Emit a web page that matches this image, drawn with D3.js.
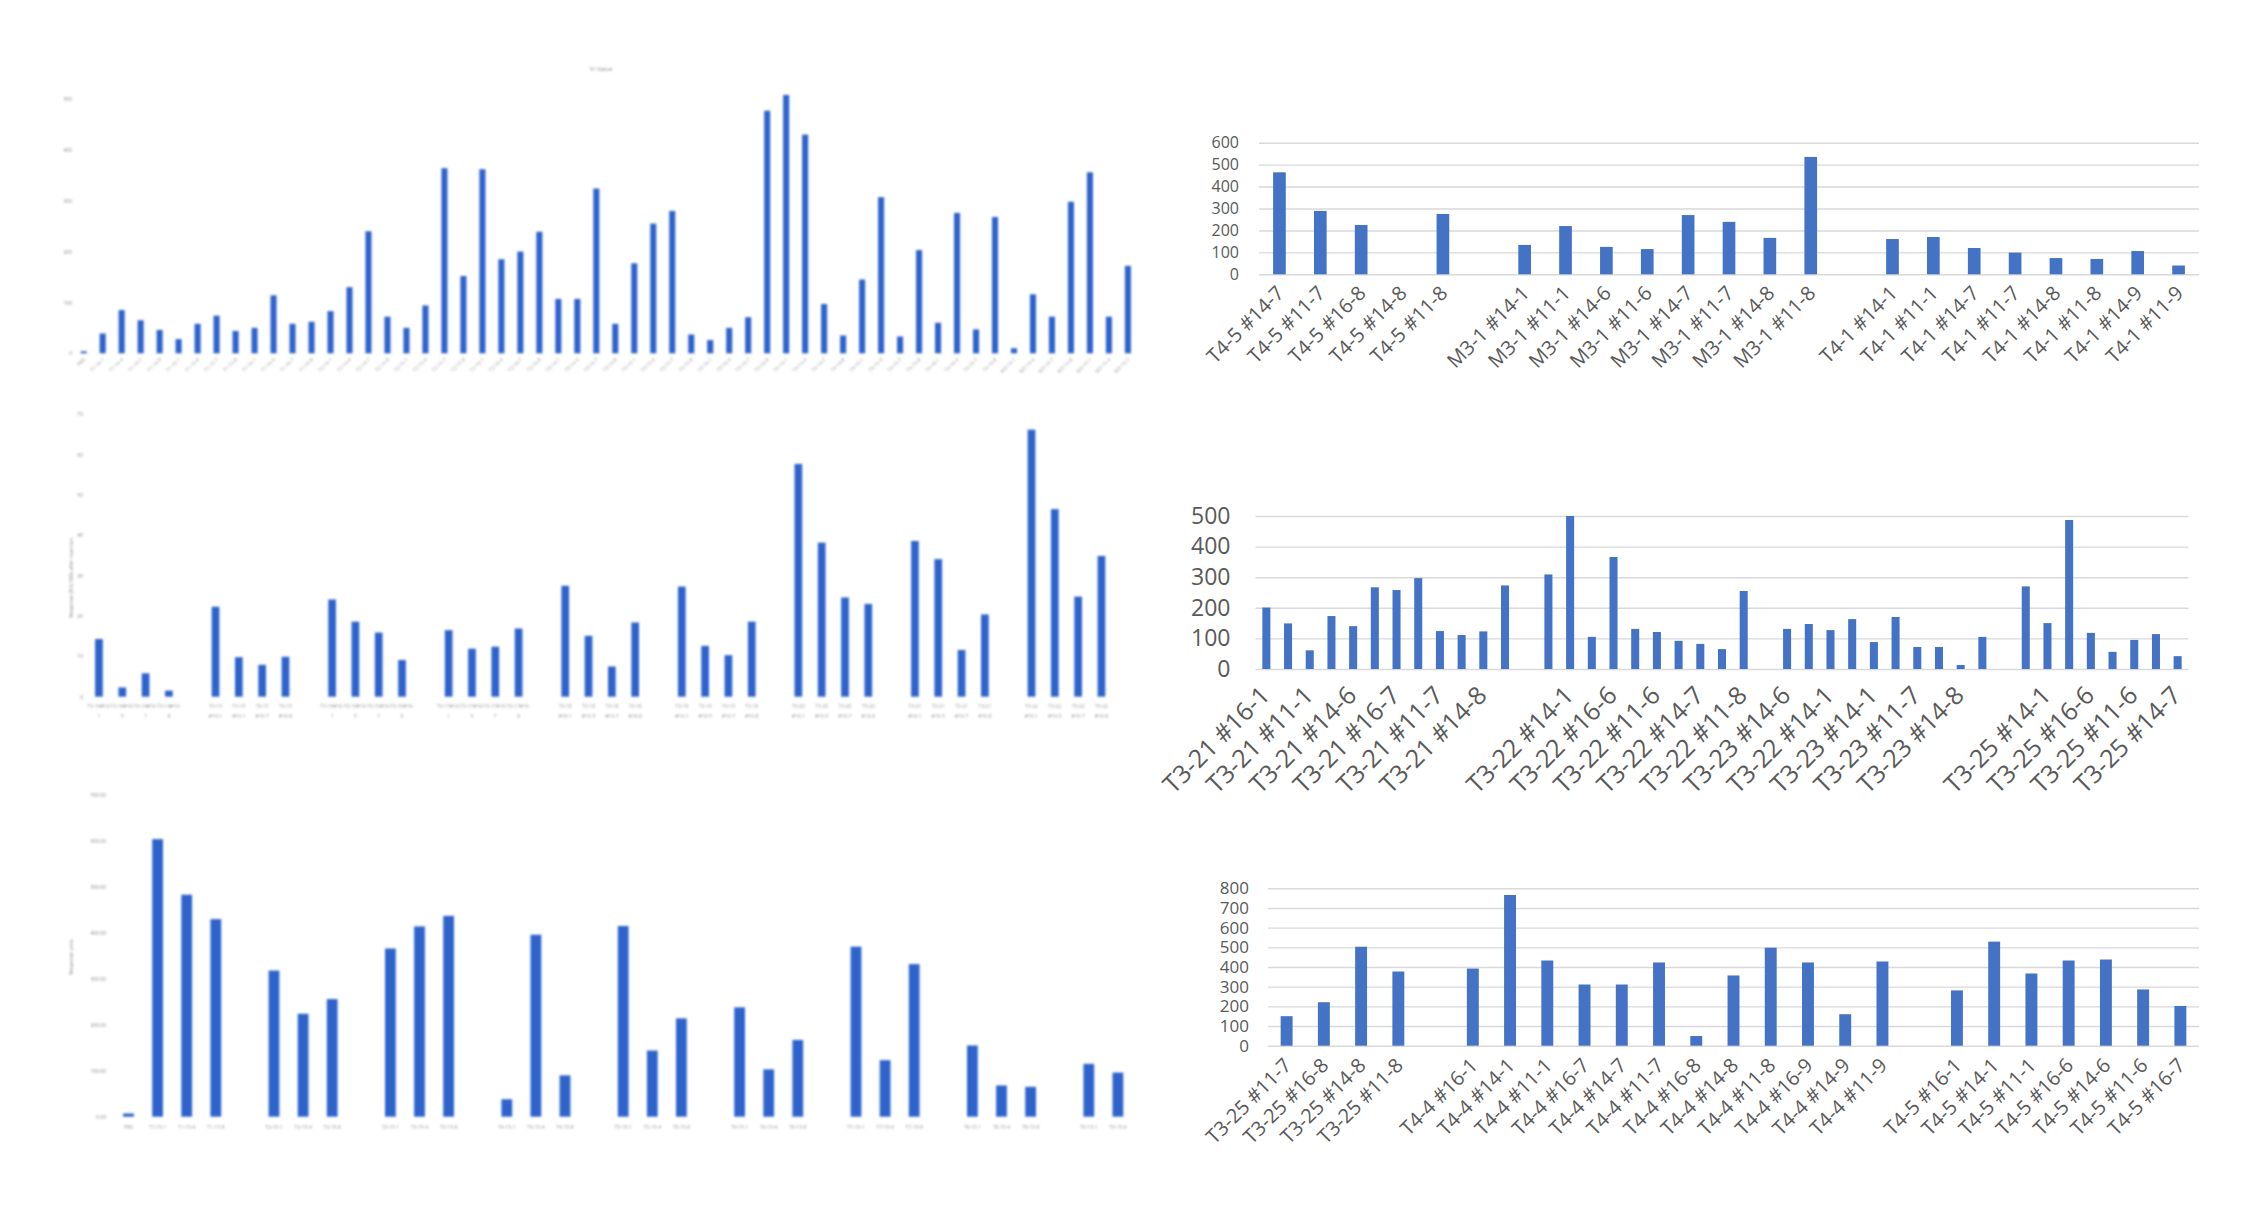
<!DOCTYPE html>
<html><head><meta charset="utf-8">
<script src="https://cdn.jsdelivr.net/npm/d3@7"></script>
<style>body{margin:0;background:#fff}svg{display:block;background:#fff}</style>
</head><body>
<svg id="c" width="2244" height="1205"></svg>
<script>
// ---------------- DATA ----------------
// Left top chart
const ltTitle = "Yr Value";
const ltLabels = ["PBS","T1-14-1","T1-14-4","T1-14-7","T1-14-8","T1-15-1","T1-15-4","T1-15-7","T1-15-8","T1-16-1","T1-16-4","T1-16-7","T1-16-8",
  "T2-14-1","T2-14-4","T2-14-7","T2-14-8","T2-15-1","T2-15-4","T2-15-7","T2-15-8","T2-16-1","T2-16-4","T2-16-7","T2-16-8",
  "T3-14-1","T3-14-4","T3-14-7","T3-14-8","T3-15-1","T3-15-4","T3-15-7","T3-15-8","T3-16-1","T3-16-4","T3-16-7","T3-16-8",
  "T4-14-1","T4-14-4","T4-14-7","T4-14-8","T4-15-1","T4-15-4","T4-15-7","T4-15-8","T4-16-1","T4-16-4","T4-16-7","T4-16-8",
  "M3-14-1","M3-14-4","M3-14-7","M3-14-8","M3-15-1","M3-15-4","M3-15-7"];
const ltValues = [4,39,85,65,46,28,58,74,44,50,114,58,62,83,130,240,72,50,94,364,152,362,185,200,239,107,107,324,58,177,
  255,280,37,26,50,71,477,508,430,97,35,145,307,33,203,60,276,47,268,10,116,72,298,356,72,172];
const ltTicks = [0,100,200,300,400,500];

// Left middle chart
const lmYTitle = "Response (RU) 180s after injection";
const lmLabels = [["T3-14#16-","1"],["T3-14#16-","5"],["T3-14#16-","7"],["T3-14#16-","8"],null,
  ["T3-15","#16-1"],["T3-15","#16-1"],["T3-15","#16-7"],["T3-15","#16-8"],null,
  ["T3-16#16-","1"],["T3-16#16-","5"],["T3-16#16-","7"],["T3-16#16-","8"],null,
  ["T3-17#16-","1"],["T3-17#16-","5"],["T3-17#16-","7"],["T3-17#16-","8"],null,
  ["T3-18","#16-1"],["T3-18","#16-5"],["T3-18","#16-7"],["T3-18","#16-8"],null,
  ["T3-19","#16-1"],["T3-19","#16-5"],["T3-19","#16-7"],["T3-19","#16-8"],null,
  ["T3-20","#16-1"],["T3-20","#16-5"],["T3-20","#16-7"],["T3-20","#16-8"],null,
  ["T3-21","#16-1"],["T3-21","#16-5"],["T3-21","#16-7"],["T3-21","#16-8"],null,
  ["T3-22","#16-1"],["T3-22","#16-5"],["T3-22","#16-7"],["T3-22","#16-8"]];
const lmValues = [14.3,2.3,5.8,1.5,null,22.3,9.8,7.9,9.9,null,24.1,18.6,15.9,9.1,null,16.5,11.9,12.4,16.9,null,
  27.5,15.1,7.5,18.4,null,27.3,12.6,10.3,18.6,null,57.7,38.2,24.6,23.0,null,38.6,34.1,11.6,20.4,null,66.2,46.5,24.8,34.9];
const lmTicks = [0,10,20,30,40,50,60,70];

// Left bottom chart
const lbYTitle = "Response units";
const lbLabels = ["PBS","T1-15-1","T1-15-4","T1-15-8","","T2-15-1","T2-15-4","T2-15-8","","T3-15-1","T3-15-4","T3-15-8","",
  "T4-15-1","T4-15-4","T4-15-8","","T5-15-1","T5-15-4","T5-15-8","","T6-15-1","T6-15-4","T6-15-8","",
  "T7-15-1","T7-15-4","T7-15-8","","T8-15-1","T8-15-4","T8-15-8","","T9-15-1","T9-15-4"];
const lbValues = [7,604,483,430,null,318,224,256,null,366,414,437,null,38,396,90,null,415,144,214,null,238,103,167,null,
  370,123,332,null,155,68,65,null,115,96];
const lbTicks = [0,100,200,300,400,500,600,700];

// Right top chart
const rtLabels = ["T4-5 #14-7","T4-5 #11-7","T4-5 #16-8","T4-5 #14-8","T4-5 #11-8","",
  "M3-1 #14-1","M3-1 #11-1","M3-1 #14-6","M3-1 #11-6","M3-1 #14-7","M3-1 #11-7","M3-1 #14-8","M3-1 #11-8","",
  "T4-1 #14-1","T4-1 #11-1","T4-1 #14-7","T4-1 #11-7","T4-1 #14-8","T4-1 #11-8","T4-1 #14-9","T4-1 #11-9"];
const rtValues = [465,289,225,0,275,null,134,220,125,115,270,239,166,535,null,161,170,120,99,74,70,106,40];
const rtTicks = [0,100,200,300,400,500,600];

// Right middle chart
const rmLabels = ["T3-21 #16-1","T3-21 #14-1","T3-21 #11-1","T3-21 #16-6","T3-21 #14-6","T3-21 #11-6","T3-21 #16-7","T3-21 #14-7",
  "T3-21 #11-7","T3-21 #16-8","T3-21 #14-8","T3-21 #11-8","",
  "T3-22 #16-1","T3-22 #14-1","T3-22 #11-1","T3-22 #16-6","T3-22 #14-6","T3-22 #11-6","T3-22 #16-7","T3-22 #14-7","T3-22 #11-7","T3-22 #11-8","",
  "T3-23 #14-6","T3-23 #11-6","T3-22 #14-1","T3-23 #16-1","T3-23 #14-1","T3-23 #16-7","T3-23 #11-7","T3-23 #16-8","T3-23 #14-8","T3-23 #11-8","",
  "T3-25 #16-1","T3-25 #14-1","T3-25 #11-1","T3-25 #16-6","T3-25 #14-6","T3-25 #11-6","T3-25 #16-7","T3-25 #14-7"];
const rmValues = [201,149,61,173,140,267,258,297,124,111,123,273,null,
  309,500,105,366,131,121,92,82,65,255,null,
  131,147,127,163,88,170,72,72,13,105,null,
  270,150,487,118,56,95,114,42];
const rmTicks = [0,100,200,300,400,500];

// Right bottom chart
const rbLabels = ["T3-25 #11-7","T3-25 #16-8","T3-25 #14-8","T3-25 #11-8","",
  "T4-4 #16-1","T4-4 #14-1","T4-4 #11-1","T4-4 #16-7","T4-4 #14-7","T4-4 #11-7","T4-4 #16-8","T4-4 #14-8","T4-4 #11-8","T4-4 #16-9","T4-4 #14-9","T4-4 #11-9","",
  "T4-5 #16-1","T4-5 #14-1","T4-5 #11-1","T4-5 #16-6","T4-5 #14-6","T4-5 #11-6","T4-5 #16-7"];
const rbValues = [150,221,503,377,null,392,766,433,311,311,423,49,357,498,423,160,428,null,281,529,367,433,438,286,202];
const rbTicks = [0,100,200,300,400,500,600,700,800];

// ---------------- DRAWING ----------------
const svg = d3.select("#c");
svg.append("defs").append("filter").attr("id","soft")
  .attr("x","-5%").attr("y","-5%").attr("width","110%").attr("height","110%")
  .append("feGaussianBlur").attr("stdDeviation",0.9);

const RIGHT_BLUE = "#4472c4";
const LEFT_BLUE = "#2f63cc";
const FONT = "'Open Sans', 'Noto Sans', sans-serif";

function bandScale(n, x0, x1, ratio) {
  return d3.scaleBand().domain(d3.range(n)).range([x0, x1])
    .paddingInner(1 - ratio).paddingOuter((1 - ratio) / 2);
}

function drawBars(g, x, y, values, color) {
  const data = values.map((v, i) => ({v, i})).filter(d => d.v != null && d.v > 0);
  g.append("g").selectAll("rect").data(data).join("rect")
    .attr("x", d => x(d.i)).attr("width", x.bandwidth())
    .attr("y", d => y(d.v)).attr("height", d => y(0) - y(d.v))
    .attr("fill", color);
}

// ---- Right (Excel-style) charts ----
function rightChart(o) {
  const g = svg.append("g").attr("font-family", FONT);
  const x = bandScale(o.values.length, o.x0, o.x1, o.ratio);
  const y = d3.scaleLinear().domain([0, o.yMax]).range([o.y0, o.yTop]);
  const ax = g.append("g").attr("transform", `translate(${o.x0},0)`)
    .call(d3.axisLeft(y).tickValues(o.ticks).tickSize(-(o.x1 - o.x0)).tickPadding(o.pad).tickFormat(d3.format("d")));
  ax.select(".domain").remove();
  ax.selectAll(".tick line").attr("stroke", "#d9d9d9").attr("stroke-width", 1.4);
  ax.selectAll(".tick text").attr("font-size", o.yFont).attr("fill", "#595959").attr("font-family", FONT);
  drawBars(g, x, y, o.values, RIGHT_BLUE);
  const lab = o.labels.map((t, i) => ({t, i})).filter(d => d.t && d.i % o.every === 0);
  g.append("g").selectAll("text").data(lab).join("text")
    .attr("transform", d => `translate(${x(d.i) + x.bandwidth() / 2 + o.ldx},${o.y0 + o.ldy}) rotate(-45)`)
    .attr("text-anchor", "end").attr("font-size", o.xFont).attr("fill", "#595959")
    .text(d => d.t);
}

rightChart({labels: rtLabels, values: rtValues, ticks: rtTicks, yMax: 600,
  x0: 1259, x1: 2199, y0: 274.3, yTop: 142.7, ratio: 0.31, pad: 20, yFont: 16, xFont: 20,
  every: 1, ldx: 6, ldy: 20});
rightChart({labels: rmLabels, values: rmValues, ticks: rmTicks, yMax: 500,
  x0: 1255.5, x1: 2188.5, y0: 669, yTop: 516, ratio: 0.37, pad: 25, yFont: 23, xFont: 25,
  every: 2, ldx: 5, ldy: 28});
rightChart({labels: rbLabels, values: rbValues, ticks: rbTicks, yMax: 800,
  x0: 1268, x1: 2199, y0: 1045.7, yTop: 888.3, ratio: 0.32, pad: 19, yFont: 17, xFont: 20,
  every: 1, ldx: 6, ldy: 21});

// ---- Left (blurry) charts ----
function leftChart(o) {
  const g = svg.append("g").attr("font-family", FONT).attr("filter", "url(#soft)");
  const x = bandScale(o.values.length, o.x0, o.x1, o.ratio);
  const y = d3.scaleLinear().domain([0, o.yMax]).range([o.y0, o.yTop]);
  const ax = g.append("g").attr("transform", `translate(${o.axX},0)`)
    .call(d3.axisLeft(y).tickValues(o.ticks).tickSize(0).tickPadding(0).tickFormat(o.fmt));
  ax.select(".domain").remove();
  ax.selectAll(".tick text").attr("font-size", o.tickFont).attr("fill", "#8a8a8a").attr("font-family", FONT);
  drawBars(g, x, y, o.values, LEFT_BLUE);
  if (o.yTitle) {
    g.append("text").attr("transform", `translate(${o.yTitleX},${o.yTitleY}) rotate(-90)`)
      .attr("text-anchor", "middle").attr("font-size", o.tickFont).attr("fill", "#8a8a8a").text(o.yTitle);
  }
  return {g, x, y};
}

// left top
{
  const {g, x} = leftChart({values: ltValues, ticks: ltTicks, yMax: 500, x0: 74.2, x1: 1137.4, y0: 353.3, yTop: 99,
    ratio: 0.32, axX: 72, tickFont: 5, fmt: d3.format("d")});
  g.append("text").attr("x", 601).attr("y", 71).attr("text-anchor", "middle")
    .attr("font-size", 6).attr("fill", "#8a8a8a").text(ltTitle);
  g.append("g").selectAll("text").data(ltLabels).join("text")
    .attr("transform", (d, i) => `translate(${x(i) + x.bandwidth() / 2 + 2},${360}) rotate(-45)`)
    .attr("text-anchor", "end").attr("font-size", 5).attr("fill", "#9a9a9a").text(d => d);
}
// left middle
{
  const {g, x} = leftChart({values: lmValues, ticks: lmTicks, yMax: 70, x0: 87.3, x1: 1113.1, y0: 696.7, yTop: 414.3,
    ratio: 0.33, axX: 83, tickFont: 5, fmt: d3.format("d"), yTitle: lmYTitle, yTitleX: 73, yTitleY: 578});
  const lab = lmLabels.map((t, i) => ({t, i})).filter(d => d.t);
  const lg = g.append("g").selectAll("text").data(lab).join("text")
    .attr("x", d => x(d.i) + x.bandwidth() / 2).attr("y", 708)
    .attr("text-anchor", "middle").attr("font-size", 5).attr("fill", "#9a9a9a");
  lg.append("tspan").text(d => d.t[0]);
  lg.append("tspan").attr("x", d => x(d.i) + x.bandwidth() / 2).attr("dy", 10).text(d => d.t[1]);
}
// left bottom
{
  const {g, x} = leftChart({values: lbValues, ticks: lbTicks, yMax: 700, x0: 113.95, x1: 1132.45, y0: 1116.7, yTop: 795,
    ratio: 0.37, axX: 106, tickFont: 5, fmt: d3.format(".2f"), yTitle: lbYTitle, yTitleX: 73, yTitleY: 957});
  g.append("g").selectAll("text").data(lbLabels.map((t, i) => ({t, i})).filter(d => d.t)).join("text")
    .attr("x", d => x(d.i) + x.bandwidth() / 2).attr("y", 1129)
    .attr("text-anchor", "middle").attr("font-size", 5).attr("fill", "#9a9a9a").text(d => d.t);
}
</script>
</body></html>
